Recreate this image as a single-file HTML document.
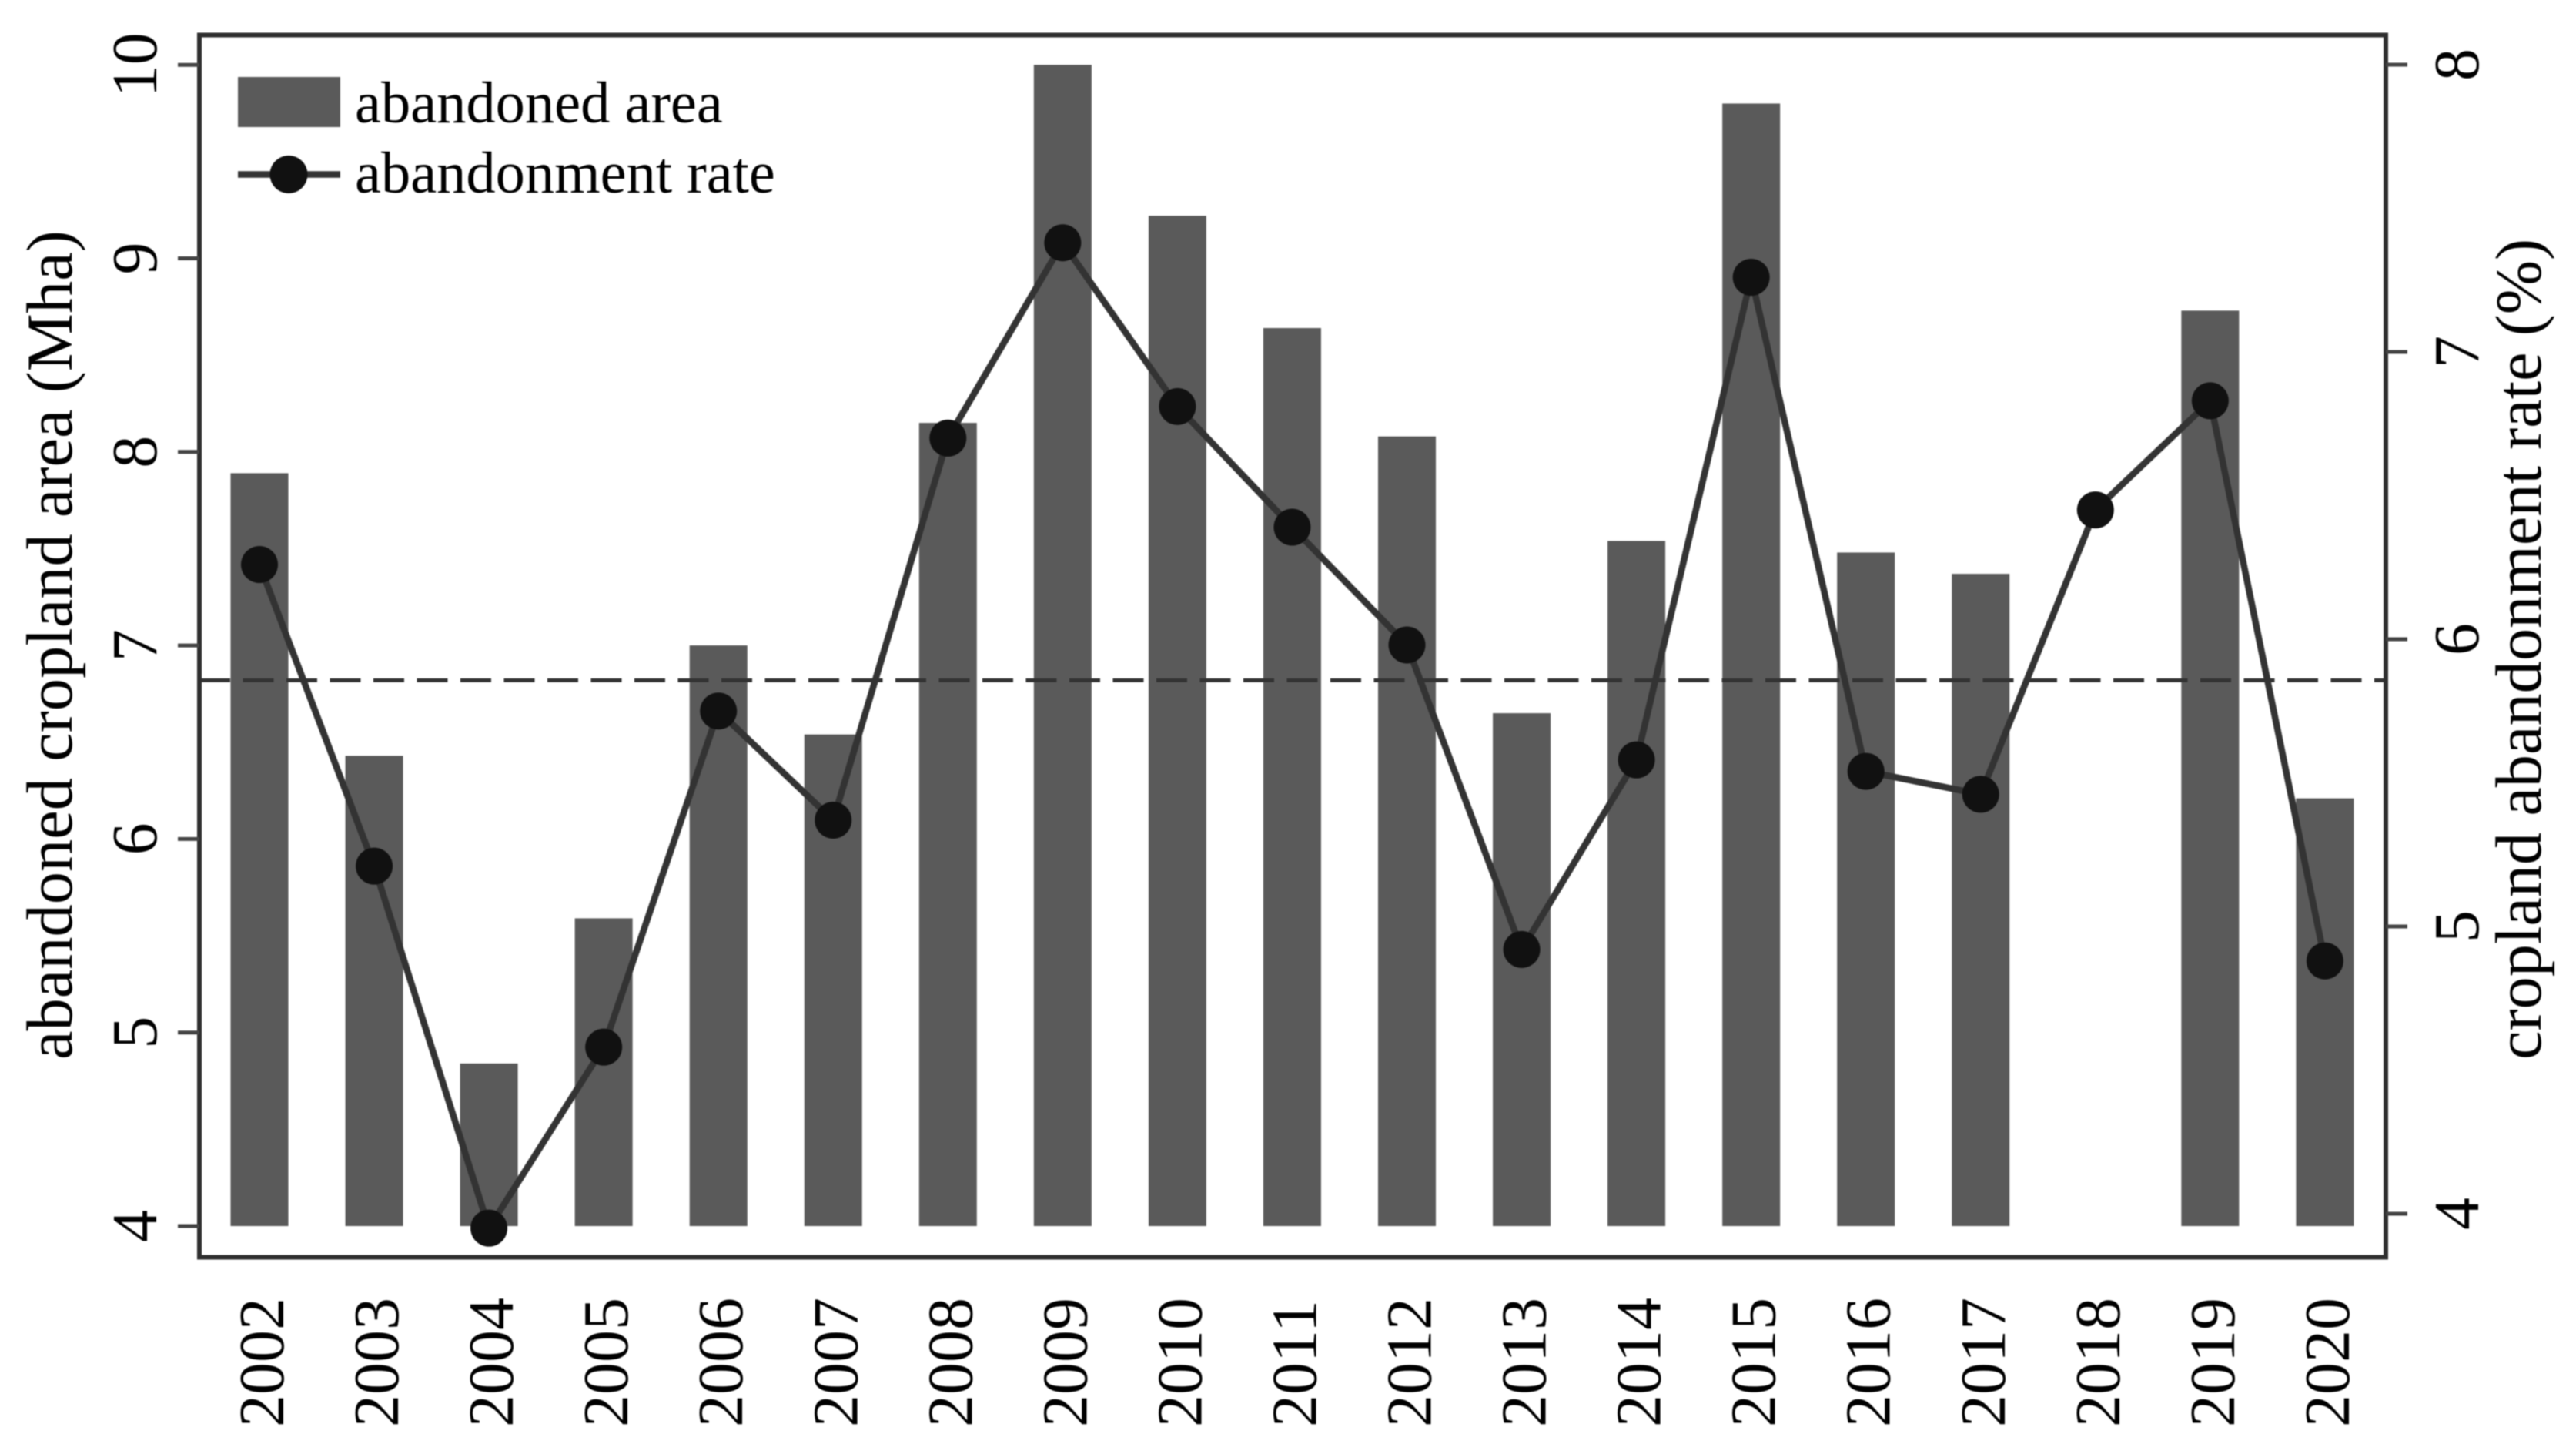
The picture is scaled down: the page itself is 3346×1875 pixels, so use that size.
<!DOCTYPE html>
<html lang="en">
<head>
<meta charset="utf-8">
<title>Abandoned cropland area and abandonment rate</title>
<style>
html,body{margin:0;padding:0;background:#fff;}
svg{display:block;filter:blur(0.7px);}
text{font-family:"Liberation Serif","Times New Roman",serif;fill:#000;}
</style>
</head>
<body>
<svg id="chart" xmlns="http://www.w3.org/2000/svg" width="3346" height="1875" viewBox="0 0 3346 1875">
  <rect x="0" y="0" width="3346" height="1875" fill="#fff"/>
  <g id="bars"></g>
  <g id="mean"></g>
  <g id="line"></g>
  <rect x="259" y="45.5" width="2840" height="1587" fill="none" stroke="#2e2e2e" stroke-width="6"/>
  <g id="axes"></g>
  <text transform="translate(93,1376) rotate(-90)" font-size="84.5">abandoned cropland area (Mha)</text>
  <text transform="translate(3300,1376) rotate(-90)" font-size="84.4">cropland abandonment rate (%)</text>
  <g>
    <rect x="309" y="100" width="133" height="65" fill="#5a5a5a"/>
    <line x1="309" y1="226.5" x2="442" y2="226.5" stroke="#333" stroke-width="8.5"/>
    <circle cx="375" cy="226.5" r="24.5" fill="#111"/>
    <text x="461" y="159" font-size="76.5">abandoned area</text>
    <text x="461" y="250" font-size="76.5">abandonment rate</text>
  </g>
</svg>
<script>
const years = [2002,2003,2004,2005,2006,2007,2008,2009,2010,2011,2012,2013,2014,2015,2016,2017,2018,2019,2020];
const areaValues = [7.89,6.43,4.84,5.59,7.00,6.54,8.15,10.0,9.22,8.64,8.08,6.65,7.54,9.80,7.48,7.37,null,8.73,6.21];
const rateValues = [6.26,5.21,3.95,4.58,5.75,5.37,6.70,7.38,6.81,6.39,5.98,4.92,5.58,7.26,5.54,5.46,6.45,6.83,4.88];
const leftTicks = [4,5,6,7,8,9,10];
const rightTicks = [4,5,6,7,8];
const meanArea = 6.82;

const NS = 'http://www.w3.org/2000/svg';
function xOf(i){ return 337 + 149.05 * i; }
function yLeft(v){ return 1592 - (v - 4) * 251.3; }
function yRight(v){ return 1576 - (v - 4) * 373; }
function make(tag, attrs, parent){
  const el = document.createElementNS(NS, tag);
  for (const k in attrs) el.setAttribute(k, attrs[k]);
  parent.appendChild(el);
  return el;
}

const barsG = document.getElementById('bars');
const lineG = document.getElementById('line');
const meanG = document.getElementById('mean');
const axesG = document.getElementById('axes');

areaValues.forEach(function(v, i){
  if (v === null) return;
  const el = make('rect', {x: xOf(i) - 37.5, y: yLeft(v), width: 75, height: yLeft(4) - yLeft(v), fill: '#5a5a5a'}, barsG);
  
  
});

const meanLine = make('line', {x1: 259, x2: 3099, y1: yLeft(meanArea), y2: yLeft(meanArea), stroke: '#333', 'stroke-width': 5, 'stroke-dasharray': '40 16.5'}, meanG);



const rateLine = make('polyline', {points: rateValues.map(function(v, i){ return xOf(i) + ',' + yRight(v); }).join(' '), fill: 'none', stroke: '#333', 'stroke-width': 8.5, 'stroke-linejoin': 'round'}, lineG);



rateValues.forEach(function(v, i){
  const el = make('circle', {cx: xOf(i), cy: yRight(v), r: 24, fill: '#111'}, lineG);
  
  
});

leftTicks.forEach(function(t){
  const y = yLeft(t);
  const tick = make('line', {x1: 231, x2: 259, y1: y, y2: y, stroke: '#444', 'stroke-width': 5}, axesG);
  
  
  const label = make('text', {transform: 'translate(203,' + y + ') rotate(-90)', 'font-size': 84, 'text-anchor': 'middle'}, axesG);
  label.textContent = t;
  
  
});

rightTicks.forEach(function(t){
  const y = yRight(t);
  const tick = make('line', {x1: 3099, x2: 3127, y1: y, y2: y, stroke: '#444', 'stroke-width': 5}, axesG);
  
  
  const label = make('text', {transform: 'translate(3219,' + y + ') rotate(-90)', 'font-size': 84, 'text-anchor': 'middle'}, axesG);
  label.textContent = t;
  
  
});

years.forEach(function(yr, i){
  const label = make('text', {transform: 'translate(' + (xOf(i) + 31) + ',1853) rotate(-90)', 'font-size': 84}, axesG);
  label.textContent = yr;
  
  
});
</script>
</body>
</html>
